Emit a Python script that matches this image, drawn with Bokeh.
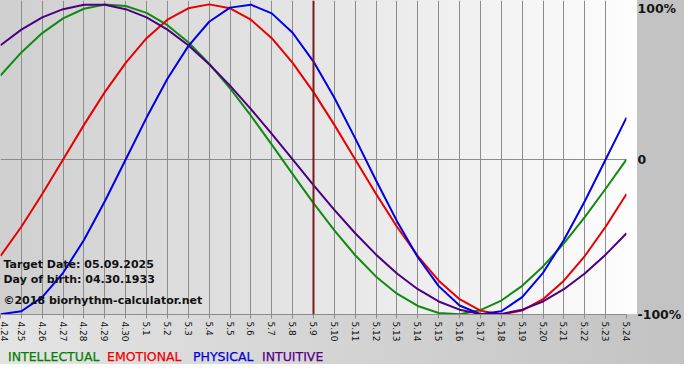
import math
from bokeh.plotting import figure
from bokeh.models import LinearAxis, FixedTicker, Grid, Span, Label, Range1d, Div
from bokeh.layouts import column
from bokeh.embed import file_html
from bokeh.resources import INLINE

# ---------------- data ----------------
day_labels = ["4.24", "4.25", "4.26", "4.27", "4.28", "4.29", "4.30",
              "5.1", "5.2", "5.3", "5.4", "5.5", "5.6", "5.7", "5.8", "5.9",
              "5.10", "5.11", "5.12", "5.13", "5.14", "5.15", "5.16", "5.17",
              "5.18", "5.19", "5.20", "5.21", "5.22", "5.23", "5.24"]

intellectual = [0.541, 0.690, 0.815, 0.910, 0.972, 0.999, 0.990, 0.945, 0.866, 0.756,
                0.618, 0.458, 0.282, 0.095, -0.095, -0.282, -0.458, -0.618, -0.756, -0.866,
                -0.945, -0.990, -0.999, -0.972, -0.910, -0.815, -0.690, -0.541, -0.372, -0.189,
                0.000]
emotional = [-0.623, -0.434, -0.223, 0.000, 0.223, 0.434, 0.623, 0.782, 0.901, 0.975,
             1.000, 0.975, 0.901, 0.782, 0.623, 0.434, 0.223, 0.000, -0.223, -0.434,
             -0.623, -0.782, -0.901, -0.975, -1.000, -0.975, -0.901, -0.782, -0.623, -0.434,
             -0.223]
physical = [-0.998, -0.979, -0.888, -0.731, -0.520, -0.270, 0.000, 0.270, 0.520, 0.731,
            0.888, 0.979, 0.998, 0.942, 0.817, 0.631, 0.398, 0.136, -0.136, -0.398,
            -0.631, -0.817, -0.942, -0.998, -0.979, -0.888, -0.731, -0.520, -0.270, 0.000,
            0.270]
intuitive = [0.736, 0.837, 0.916, 0.969, 0.997, 0.997, 0.969, 0.916, 0.837, 0.736,
             0.614, 0.476, 0.325, 0.165, 0.000, -0.165, -0.325, -0.476, -0.614, -0.736,
             -0.837, -0.916, -0.969, -0.997, -0.997, -0.969, -0.916, -0.837, -0.736, -0.614,
             -0.476]

target_day = "5.9"
target_text = "Target Date: 05.09.2025"
birth_text = "Day of birth: 04.30.1933"
credit_text = "\u00a92018 biorhythm-calculator.net"

y_ticks = [-1, 0, 1]
y_tick_labels = ["-100%", "0", "100%"]

series_names = ["INTELLECTUAL", "EMOTIONAL", "PHYSICAL", "INTUITIVE"]

# ---------------- styles ----------------
line_colors = ["#108a10", "#e80000", "#0000e6", "#4b0082"]
legend_colors = ["#008000", "#ee0000", "#0000dd", "#550088"]
legend_px = [8, 107, 193, 262]

W, H = 684, 364
LEGEND_H = 14
FRAME_W, FRAME_H = 637, 314
RIGHT = W - FRAME_W
BOTTOM = H - LEGEND_H - FRAME_H

days = list(range(len(day_labels)))
y_lo, y_hi = -1.0, 1.025
px_per_day = FRAME_W / (len(days) - 1)
px_per_unit = FRAME_H / (y_hi - y_lo)

p = figure(width=W, height=H - LEGEND_H, output_backend="svg", toolbar_location=None,
           x_axis_location=None, y_axis_location=None,
           x_range=Range1d(days[0], days[-1]), y_range=Range1d(y_lo, y_hi),
           min_border_left=0, min_border_top=0,
           min_border_right=RIGHT, min_border_bottom=BOTTOM)
p.grid.visible = False
p.outline_line_color = None
p.background_fill_color = None
p.border_fill_color = None

grid_color = "#8c8c8c"
xg = Grid(dimension=0, ticker=FixedTicker(ticks=days), grid_line_color=grid_color, grid_line_width=1)
yg = Grid(dimension=1, ticker=FixedTicker(ticks=[0]), grid_line_color=grid_color, grid_line_width=1)
p.add_layout(xg, "center")
p.add_layout(yg, "center")

xaxis = LinearAxis(ticker=FixedTicker(ticks=days),
                   major_label_overrides={d: lab for d, lab in zip(days, day_labels)},
                   major_label_orientation=-math.pi / 2,
                   major_label_text_font="DejaVu Sans", major_label_text_font_size="9px",
                   major_label_text_color="#111111", major_label_standoff=3,
                   axis_line_color=grid_color, major_tick_line_color=grid_color,
                   major_tick_in=0, major_tick_out=4, minor_tick_line_color=None)
p.add_layout(xaxis, "below")

yaxis = LinearAxis(ticker=FixedTicker(ticks=y_ticks),
                   major_label_overrides={t: lab for t, lab in zip(y_ticks, y_tick_labels)},
                   major_label_text_font="DejaVu Sans", major_label_text_font_size="12.5px",
                   major_label_text_font_style="bold", major_label_text_color="#151515",
                   major_label_standoff=5, axis_line_color=None, major_tick_line_color=None,
                   minor_tick_line_color=None)
p.add_layout(yaxis, "right")

for vals, col in zip([intellectual, emotional, physical, intuitive], line_colors):
    p.line(days, vals, line_width=2, line_color=col, line_join="round")

p.add_layout(Span(location=day_labels.index(target_day), dimension="height",
                  line_color="#7a1c1c", line_width=2))

# info texts (bottom-left, inside the plot)
info = [(target_text, 50), (birth_text, 35), (credit_text, 14)]
for txt, up in info:
    p.add_layout(Label(x=3 / px_per_day, y=y_lo + up / px_per_unit, text=txt,
                       text_font="DejaVu Sans", text_font_size="11px",
                       text_font_style="bold", text_color="#111111",
                       text_baseline="middle", text_align="left"))

# legend row under the axis (coloured words)
spans = "".join(
    f'<span style="position:absolute; left:{x}px; top:0px; color:{c};">{n}</span>'
    for n, c, x in zip(series_names, legend_colors, legend_px)
)
legend = Div(text=f'<div style="position:relative; width:{W}px; height:{LEGEND_H}px;">{spans}</div>',
             width=W, height=LEGEND_H, margin=0,
             styles={"font-family": "DejaVu Sans", "font-size": "12.5px",
                     "line-height": f"{LEGEND_H}px", "-webkit-text-stroke": "0.25px"})

page = column(p, legend, spacing=0, margin=0)
page.styles = {
    "background": (
        f"linear-gradient(to right, #cfcfcf, #fdfdfd) 0px 0px / {FRAME_W}px {FRAME_H}px no-repeat, "
        f"linear-gradient(#c3c3c3, #c3c3c3) {FRAME_W}px 0px / {RIGHT}px {FRAME_H}px no-repeat, "
        "linear-gradient(to right, #e4e4e4, #c3c3c3)"
    )
}

open("out.html", "w").write(file_html(page, INLINE))
